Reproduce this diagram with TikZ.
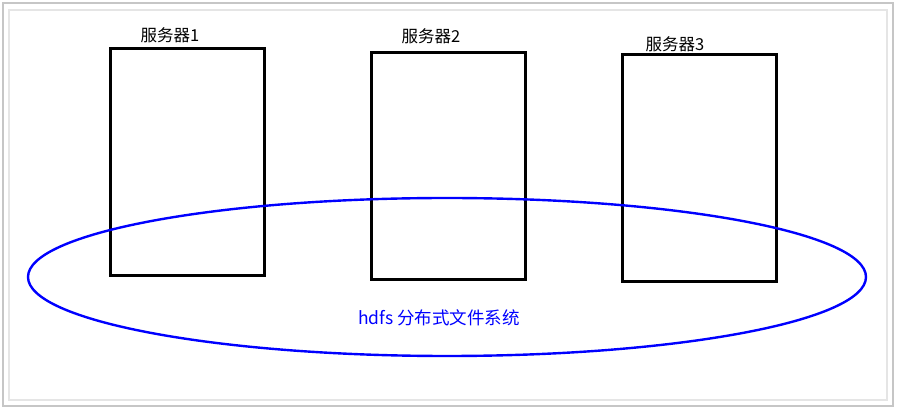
\documentclass[tikz,border=0pt]{standalone}
\usepackage{fontspec}
\setmainfont{Noto Sans CJK SC}
\begin{document}
\begin{tikzpicture}[x=1pt,y=-1pt,
  server/.style={draw=black,line width=2.8pt,minimum width=154pt,minimum height=227pt,inner sep=0pt},
  lbl/.style={font=\fontsize{16.5}{18}\selectfont,text=black,inner sep=0pt}]
\useasboundingbox (0,0) rectangle (900,411);
\fill[white] (0,0) rectangle (900,411);
\draw[gray!45,line width=1.4pt] (3,3) rectangle (893,406);
\draw[gray!20,line width=1.2pt] (9,10) rectangle (887,400);
\node[server,anchor=north west] (s1) at (109,47) {};
\node[server,anchor=north west] (s2) at (370,51) {};
\node[server,anchor=north west] (s3) at (621,53) {};
\node[lbl] (l1) at (170,35) {服务器1};
\node[lbl] (l2) at (431,36) {服务器2};
\node[lbl] (l3) at (675,44) {服务器3};
\draw[blue,line width=2.4pt] (447,277) ellipse [x radius=419, y radius=79];
\node[text=blue,font=\fontsize{17.5}{20}\selectfont,inner sep=0pt] (fsl) at (439,318) {hdfs 分布式文件系统};
\end{tikzpicture}
\end{document}
